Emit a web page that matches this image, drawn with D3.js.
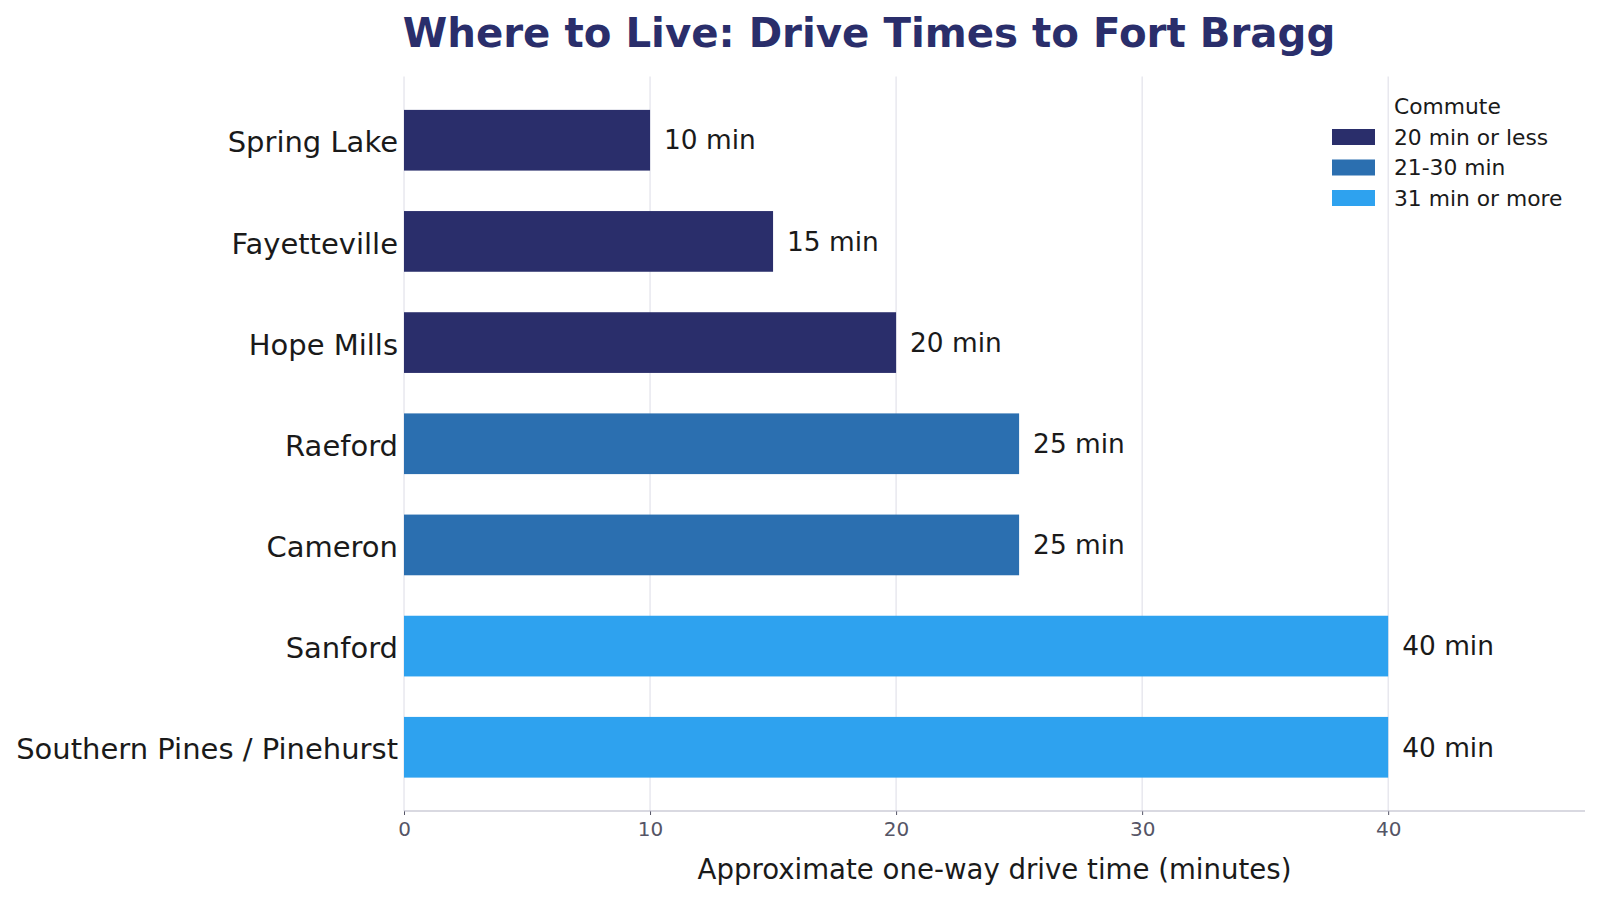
<!DOCTYPE html>
<html lang="en">
<head>
<meta charset="utf-8">
<title>Drive Times to Fort Bragg</title>
<script src="https://cdn.jsdelivr.net/npm/d3@7"></script>
<style>
  body { margin: 0; background: #fff; }
  text { font-family: "DejaVu Sans", sans-serif; }
  .grid line { stroke: #dcdce6; stroke-width: 1; }
</style>
</head>
<body>
<script>
// data
var towns = ["Spring Lake", "Fayetteville", "Hope Mills", "Raeford", "Cameron", "Sanford", "Southern Pines / Pinehurst"];
var minutes = [10, 15, 20, 25, 25, 40, 40];
var groups = ["20 min or less", "21-30 min", "31 min or more"];
var groupColors = ["#2a2e6b", "#2b6fb0", "#2ea2ef"];
var xTicks = [0, 10, 20, 30, 40];

var w = 1600, h = 900;
var plotLeft = 404, plotRight = 1585, plotTop = 76.5, plotBottom = 811;

function groupOf(m) { return m <= 20 ? 0 : (m <= 30 ? 1 : 2); }

var svg = d3.select("body").append("svg").attr("width", w).attr("height", h);

var xScale = d3.scaleLinear().domain([0, 48]).range([plotLeft, plotRight]);
// bar index with matplotlib-style margins
var yScale = d3.scaleLinear().domain([-0.63, towns.length - 1 + 0.63]).range([plotTop, plotBottom]);
var barH = 0.6;

// gridlines
svg.append("g").attr("class", "grid")
  .selectAll("line").data(xTicks).enter().append("line")
  .attr("x1", function(d){ return xScale(d); })
  .attr("x2", function(d){ return xScale(d); })
  .attr("y1", plotTop).attr("y2", plotBottom);

// bars
svg.selectAll("rect.bar").data(minutes).enter().append("rect")
  .attr("class", "bar")
  .attr("x", xScale(0))
  .attr("y", function(d, i){ return yScale(i - barH / 2); })
  .attr("width", function(d){ return xScale(d) - xScale(0); })
  .attr("height", yScale(barH) - yScale(0))
  .attr("fill", function(d){ return groupColors[groupOf(d)]; });

// value labels
svg.selectAll("text.val").data(minutes).enter().append("text")
  .attr("class", "val")
  .attr("x", function(d){ return xScale(d) + 14; })
  .attr("y", function(d, i){ return yScale(i); })
  .attr("dy", "0.35em")
  .attr("font-size", 26.4)
  .attr("fill", "#1a1a1a")
  .text(function(d){ return d + " min"; });

// category labels
svg.selectAll("text.cat").data(towns).enter().append("text")
  .attr("class", "cat")
  .attr("x", plotLeft - 6)
  .attr("y", function(d, i){ return yScale(i) + 2; })
  .attr("dy", "0.35em")
  .attr("text-anchor", "end")
  .attr("font-size", 29)
  .attr("fill", "#1a1a1a")
  .text(function(d){ return d; });

// x axis
var xAxis = d3.axisBottom(xScale).tickValues(xTicks).tickSize(4).tickPadding(7);
var ax = svg.append("g").attr("transform", "translate(0," + plotBottom + ")").call(xAxis);
ax.select(".domain").remove();
ax.append("line").attr("x1", plotLeft).attr("x2", plotRight).attr("stroke", "#b4b4c4").attr("stroke-width", 1.2);
ax.selectAll(".tick line").attr("stroke", "#555566");
ax.selectAll(".tick text").attr("font-size", 20).attr("fill", "#555566").attr("font-family", "DejaVu Sans");

svg.append("text")
  .attr("x", (plotLeft + plotRight) / 2).attr("y", 869)
  .attr("dy", "0.35em")
  .attr("text-anchor", "middle")
  .attr("font-size", 27.6)
  .attr("fill", "#1a1a1a")
  .text("Approximate one-way drive time (minutes)");

// title
svg.append("text")
  .attr("x", 869).attr("y", 47)
  .attr("text-anchor", "middle")
  .attr("font-size", 40.3)
  .attr("font-weight", "bold")
  .attr("fill", "#2a2e6b")
  .text("Where to Live: Drive Times to Fort Bragg");

// legend
var lg = svg.append("g");
lg.append("text").attr("x", 1394).attr("y", 106).attr("dy", "0.35em")
  .attr("font-size", 21.8).attr("fill", "#1a1a1a").text("Commute");
var items = lg.selectAll("g.item").data(groups).enter().append("g")
  .attr("transform", function(d, i){ return "translate(0," + (137 + i * 30.5) + ")"; });
items.append("rect").attr("x", 1332).attr("y", -8).attr("width", 43).attr("height", 16)
  .attr("fill", function(d, i){ return groupColors[i]; });
items.append("text").attr("x", 1394).attr("dy", "0.35em")
  .attr("font-size", 21.8).attr("fill", "#1a1a1a").text(function(d){ return d; });
</script>
</body>
</html>
